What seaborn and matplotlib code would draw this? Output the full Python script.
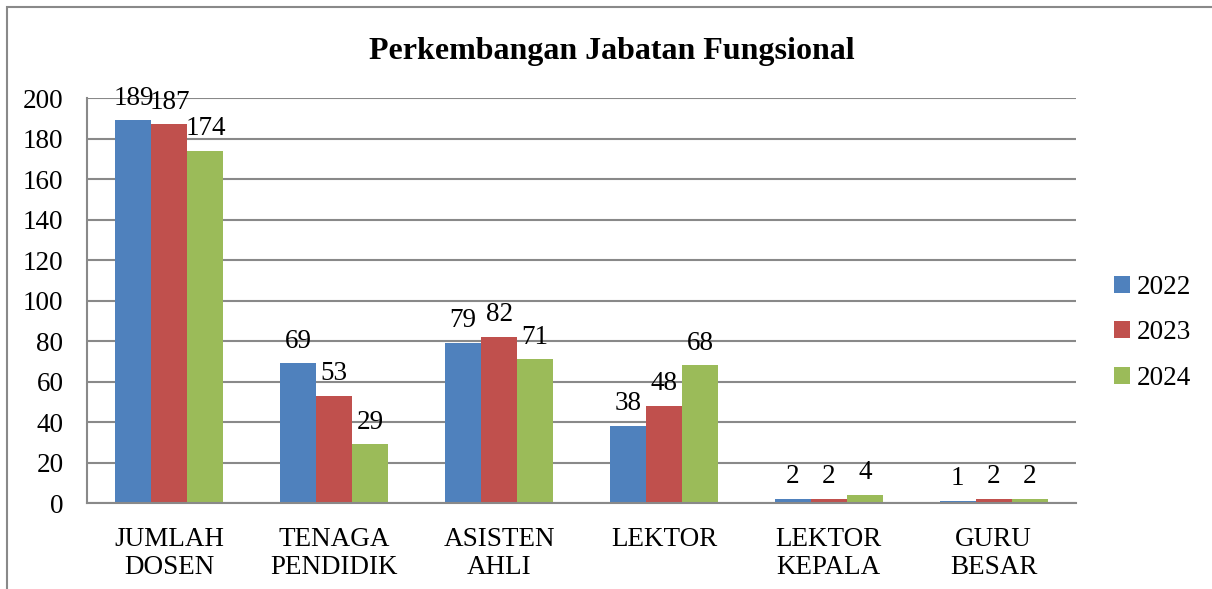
import matplotlib
matplotlib.use("Agg")
import matplotlib.pyplot as plt
import seaborn as sns
import pandas as pd
from matplotlib.patches import Rectangle

# ─── Data ─────────────────────────────────────────────────────────────────────
categories = ["JUMLAH\nDOSEN", "TENAGA\nPENDIDIK", "ASISTEN\nAHLI", "LEKTOR",
              "LEKTOR\nKEPALA", "GURU\nBESAR"]
years = ["2022", "2023", "2024"]
values_2022 = [189, 69, 79, 38, 2, 1]
values_2023 = [187, 53, 82, 48, 2, 2]
values_2024 = [174, 29, 71, 68, 4, 2]
y_ticks = [0, 20, 40, 60, 80, 100, 120, 140, 160, 180, 200]

colors = ["#4F81BD", "#C0504D", "#9BBB59"]
grid_color = "#898989"
fs = 19.5

df = pd.DataFrame({
    "category": categories * 3,
    "year": [y for y in years for _ in categories],
    "value": values_2022 + values_2023 + values_2024,
})

sns.set_theme(style="white")
plt.rcParams["font.family"] = ["Liberation Serif", "DejaVu Serif"]
plt.rcParams["text.color"] = "black"

fig = plt.figure(figsize=(12.12, 5.89), dpi=100)
ax = fig.add_axes([0.0718, 0.146, 0.816, 0.6876])

sns.barplot(data=df, x="category", y="value", hue="year", order=categories,
            hue_order=years, palette=colors, width=0.655, saturation=1,
            edgecolor="none", ax=ax)

for cont in ax.containers:
    ax.bar_label(cont, fmt="%d", padding=7, fontsize=fs, color="black")

ax.set_ylim(0, 200)
ax.set_yticks(y_ticks)
ax.set_xlim(-0.5, len(categories) - 0.5)
ax.yaxis.grid(True, color=grid_color, linewidth=1.5)
ax.set_axisbelow(True)
for side in ["top", "right"]:
    ax.spines[side].set_visible(False)
for side in ["left", "bottom"]:
    ax.spines[side].set_color(grid_color)
    ax.spines[side].set_linewidth(1.5)
ax.tick_params(axis="both", length=0, labelsize=fs, colors="black")
ax.tick_params(axis="y", pad=17)
ax.tick_params(axis="x", pad=17)
for lbl in ax.get_xticklabels():
    lbl.set_linespacing(1.2)
ax.set_xlabel("")
ax.set_ylabel("")

ax.legend(loc="upper left", bbox_to_anchor=(0.919, 0.533), bbox_transform=fig.transFigure,
          frameon=False, fontsize=fs, handlelength=0.6, handleheight=0.6,
          handletextpad=0.25, labelspacing=0.75, borderpad=0, borderaxespad=0)

fig.text(0.505, 0.913, "Perkembangan Jabatan Fungsional", ha="center", va="center",
         fontsize=23, fontweight="bold", color="black")

# chart border (cut off at right and bottom like the original)
fig.patches.append(Rectangle((7 / 1212, -0.1), 1.2, 1 - 7 / 589 + 0.1,
                             transform=fig.transFigure, fill=False,
                             edgecolor=grid_color, linewidth=1.5))

fig.savefig("out.png", dpi=100)
